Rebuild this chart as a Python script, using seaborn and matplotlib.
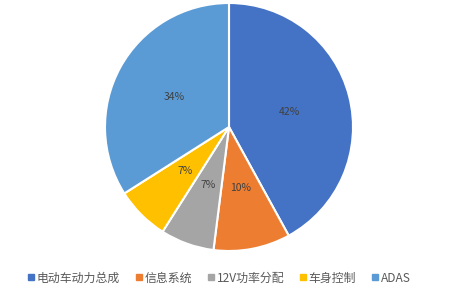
import matplotlib
matplotlib.use("Agg")
import matplotlib.pyplot as plt
import seaborn as sns
from matplotlib.lines import Line2D

sns.set_theme(style="white")
plt.rcParams['font.family'] = ['Noto Sans CJK SC', 'DejaVu Sans']

categories = ["电动车动力总成", "信息系统", "12V功率分配", "车身控制", "ADAS"]
values = [42, 10, 7, 7, 34]
colors = ["#4472C4", "#ED7D31", "#A5A5A5", "#FFC000", "#5B9BD5"]

W, H = 454, 291
fig = plt.figure(figsize=(W / 100, H / 100), dpi=100)
fig.patch.set_facecolor("white")
cx, cy, r = 229, 127, 124
ax = fig.add_axes([(cx - r) / W, (H - cy - r) / H, 2 * r / W, 2 * r / H])

wedges, texts, autotexts = ax.pie(
    values, colors=colors, startangle=90, counterclock=False,
    autopct=lambda p: f"{p:.0f}%", pctdistance=0.5,
    wedgeprops=dict(edgecolor="white", linewidth=1.5),
    textprops=dict(color="#404040", fontsize=7.5),
)
ax.set_xlim(-1, 1)
ax.set_ylim(-1, 1)
ax.set_aspect("equal")
ax.axis("off")

handles = [Line2D([0], [0], marker="s", linestyle="", markersize=4,
                  markerfacecolor=c, markeredgecolor=c) for c in colors]
fig.legend(handles, categories, loc="center left", bbox_to_anchor=(16 / W, 1 - 278 / H),
           ncol=5, frameon=False, fontsize=8.6, handletextpad=0.15,
           columnspacing=1.2, labelcolor="#595959", handlelength=0.7)

fig.savefig("out.png", dpi=100, facecolor="white")
